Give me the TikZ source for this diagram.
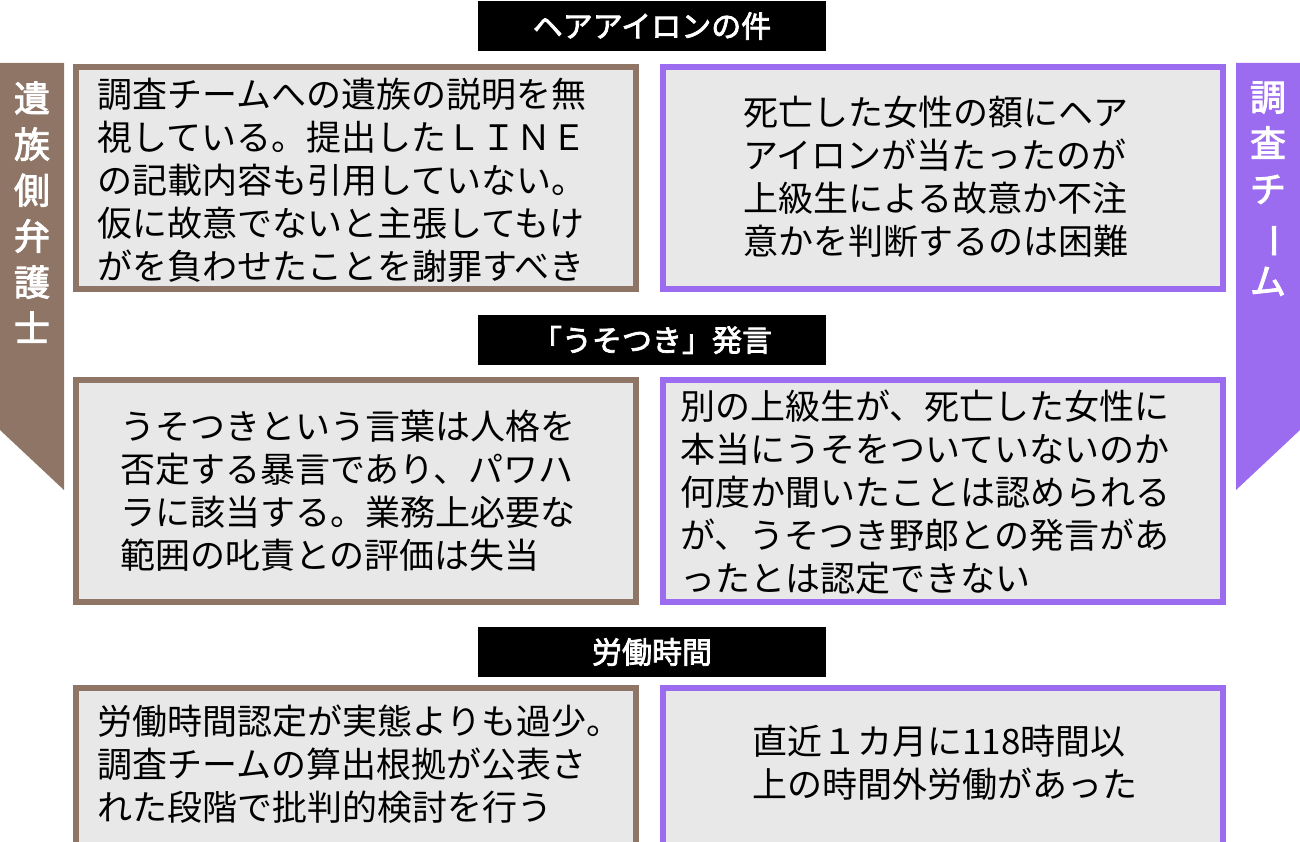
\documentclass[tikz,border=0pt]{standalone}
\usepackage{fontspec}
\usepackage{graphicx}
\setmainfont{Noto Sans CJK JP}
\newfontfamily\jpbold{Noto Sans CJK JP}[FakeBold=2.5]
\definecolor{bengo}{HTML}{8E7566}
\definecolor{chosa}{HTML}{9B6BF0}
\definecolor{boxfill}{HTML}{E8E8E8}
\usetikzlibrary{positioning}

\begin{document}
\begin{tikzpicture}[x=1pt,y=-1pt,
  titlebar/.style={fill=black,text=white,inner sep=0pt,minimum width=348,minimum height=50,font=\jpbold\fontsize{30}{30}\selectfont},
  claimbox/.style={line width=6pt,fill=boxfill,inner sep=0pt,minimum width=560,minimum height=222},
  claimtext/.style={align=left,font=\fontsize{35}{43}\selectfont,inner sep=0pt},
  sidetext/.style={align=center,text=white,font=\jpbold\fontsize{36}{46}\selectfont}]
\useasboundingbox (0,0) rectangle (1300,842);

% side bands
\fill[bengo] (0,63) -- (64,63) -- (64,490) -- (0,430) -- cycle;
\fill[chosa] (1236,63) -- (1300,63) -- (1300,430) -- (1236,490) -- cycle;
\node[sidetext,anchor=north] (bengoshi) at (32,78) {遺\\族\\側\\弁\\護\\士};
\node[sidetext,anchor=north] (team) at (1268,78) {調\\査\\チ\\\rotatebox[origin=c]{-90}{ー}\\ム};

% titles
\node[titlebar] (iron) at (652,26) {ヘアアイロンの件};
\node[titlebar] (uso) at (652,340) {「うそつき」発言};
\node[titlebar] (rodo) at (652,652) {労働時間};

% row 1
\node[claimbox,draw=bengo] (l1) at (356,178) {};
\node[claimbox,draw=chosa] (r1) at (943,178) {};
\node[claimtext,anchor=north west] (l1t) at (97,78) {調査チームへの遺族の説明を無\\視している。提出したＬＩＮＥ\\の記載内容も引用していない。\\仮に故意でないと主張してもけ\\がを負わせたことを謝罪すべき};
\node[claimtext,anchor=north west] (r1t) at (743,96) {死亡した女性の額にヘア\\アイロンが当たったのが\\上級生による故意か不注\\意かを判断するのは困難};

% row 2
\node[claimbox,draw=bengo] (l2) at (356,491) {};
\node[claimbox,draw=chosa] (r2) at (943,491) {};
\node[claimtext,anchor=north west] (l2t) at (120,410) {うそつきという言葉は人格を\\否定する暴言であり、パワハ\\ラに該当する。業務上必要な\\範囲の叱責との評価は失当};
\node[claimtext,anchor=north west] (r2t) at (680,390) {別の上級生が、死亡した女性に\\本当にうそをついていないのか\\何度か聞いたことは認められる\\が、うそつき野郎との発言があ\\ったとは認定できない};

% row 3
\node[claimbox,draw=bengo,minimum height=160] (l3) at (356,768) {};
\node[claimbox,draw=chosa,minimum height=160] (r3) at (943,768) {};
\node[claimtext,anchor=north west] (l3t) at (97,705) {労働時間認定が実態よりも過少。\\調査チームの算出根拠が公表さ\\れた段階で批判的検討を行う};
\node[claimtext,anchor=north west] (r3t) at (752,725) {直近１カ月に118時間以\\上の時間外労働があった};
\end{tikzpicture}
\end{document}
